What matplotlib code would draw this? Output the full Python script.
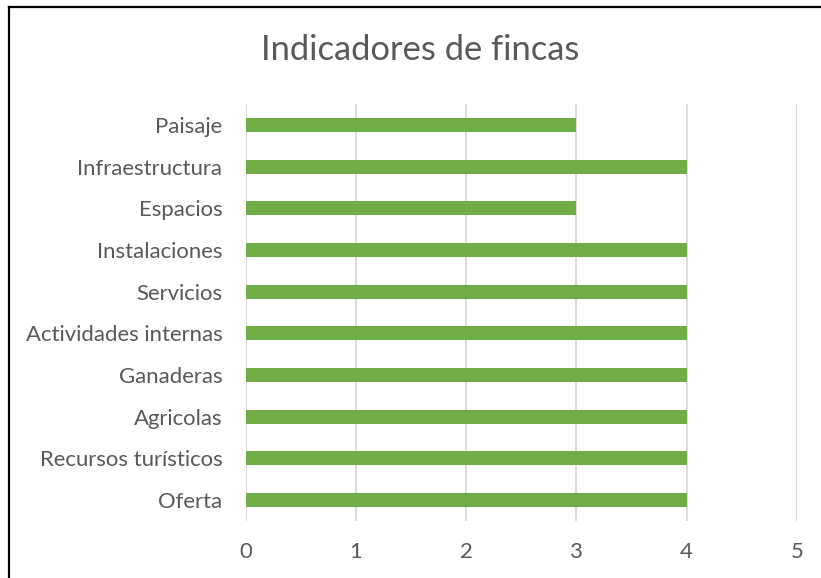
import numpy as np
import matplotlib.pyplot as plt
from matplotlib.lines import Line2D

categorias = ['Oferta', 'Recursos turísticos', 'Agricolas', 'Ganaderas',
              'Actividades internas', 'Servicios', 'Instalaciones',
              'Espacios', 'Infraestructura', 'Paisaje']
valores = [4, 4, 4, 4, 4, 4, 4, 3, 4, 3]

plt.rcParams['font.family'] = ['Lato', 'DejaVu Sans']

W, H = 821, 578
fig = plt.figure(figsize=(W / 100, H / 100), dpi=100)
ax = fig.add_axes([246 / W, 1 - 520.8 / H, (796.7 - 246) / W, (520.8 - 104.2) / H])

y = np.arange(len(categorias))
ax.barh(y, valores, height=0.34, color='#70AD47', zorder=3)

ax.set_xlim(0, 5)
ax.set_ylim(-0.5, len(categorias) - 0.5)
ax.set_xticks(range(0, 6))
ax.set_yticks(y)
ax.set_yticklabels(categorias)
ax.grid(axis='x', color='#D9D9D9', linewidth=1.3, zorder=0)
for s in ax.spines.values():
    s.set_visible(False)
ax.tick_params(axis='both', length=0, labelsize=15.9, colors='#595959')
ax.tick_params(axis='x', pad=15)
ax.tick_params(axis='y', pad=17)

fig.text(420 / W, 1 - 50 / H, 'Indicadores de fincas', ha='center', va='center',
         fontsize=24.8, color='#595959')

# chart border (only left and top visible in the crop)
fig.add_artist(Line2D([8.5 / W, 8.5 / W], [0, 1 - 7 / H], color='black', linewidth=1.6,
                      transform=fig.transFigure))
fig.add_artist(Line2D([8.5 / W, 1], [1 - 7 / H, 1 - 7 / H], color='black', linewidth=1.6,
                      transform=fig.transFigure))

fig.savefig('out.png', dpi=100)
